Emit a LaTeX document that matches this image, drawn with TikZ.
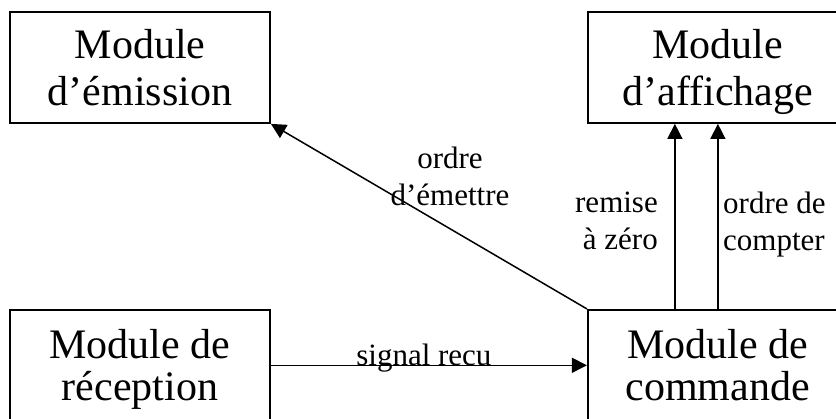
\documentclass[tikz,border=0pt]{standalone}
\usepackage{fontspec}
\setmainfont{Liberation Serif}
\usetikzlibrary{positioning}
\usetikzlibrary{arrows.meta}

\tikzset{
  module/.style={draw,line width=1.8pt,minimum width=260pt,minimum height=111pt,
    align=center,inner sep=0pt,font=\fontsize{42}{47}\selectfont,text depth=-7pt},
  lowmodule/.style={module,font=\fontsize{42}{42}\selectfont,text depth=0pt},
  lbl/.style={inner sep=0pt,font=\fontsize{31}{37}\selectfont},
  arr/.style={line width=1.5pt,-{Triangle[length=15pt,width=15pt]}}
}

\begin{document}
\begin{tikzpicture}[x=1pt,y=-1pt]
  \useasboundingbox (0,0) rectangle (836,419);
  \clip (0,0) rectangle (836,419);
  \node[module](emi) at (140,67.5) {Module\\d'émission};
  \node[lowmodule,below=185pt of emi](rec) {Module de\\réception};
  \node[lowmodule,right=316pt of rec](com) {Module de\\commande};
  \node[module,above=185pt of com](aff) {Module\\d'affichage};
  \node[lbl,align=center,anchor=north](ordre) at (450,147) {ordre\\d'émettre};
  \node[lbl,align=right,anchor=north east](raz) at (658,192) {remise\\à zéro};
  \node[lbl,align=left,anchor=north west](cpt) at (723,192) {ordre de\\compter};
  \draw[arr] (com.north west)--(emi.south east);
  \draw[arr] (rec)--node[lbl,anchor=base,xshift=-5pt]{signal recu}(com);
  \draw[arr] ([xshift=88pt]com.north west)--([xshift=88pt]com.north west |- aff.south);
  \draw[arr] ([xshift=131pt]com.north west)--([xshift=131pt]com.north west |- aff.south);
\end{tikzpicture}
\end{document}
